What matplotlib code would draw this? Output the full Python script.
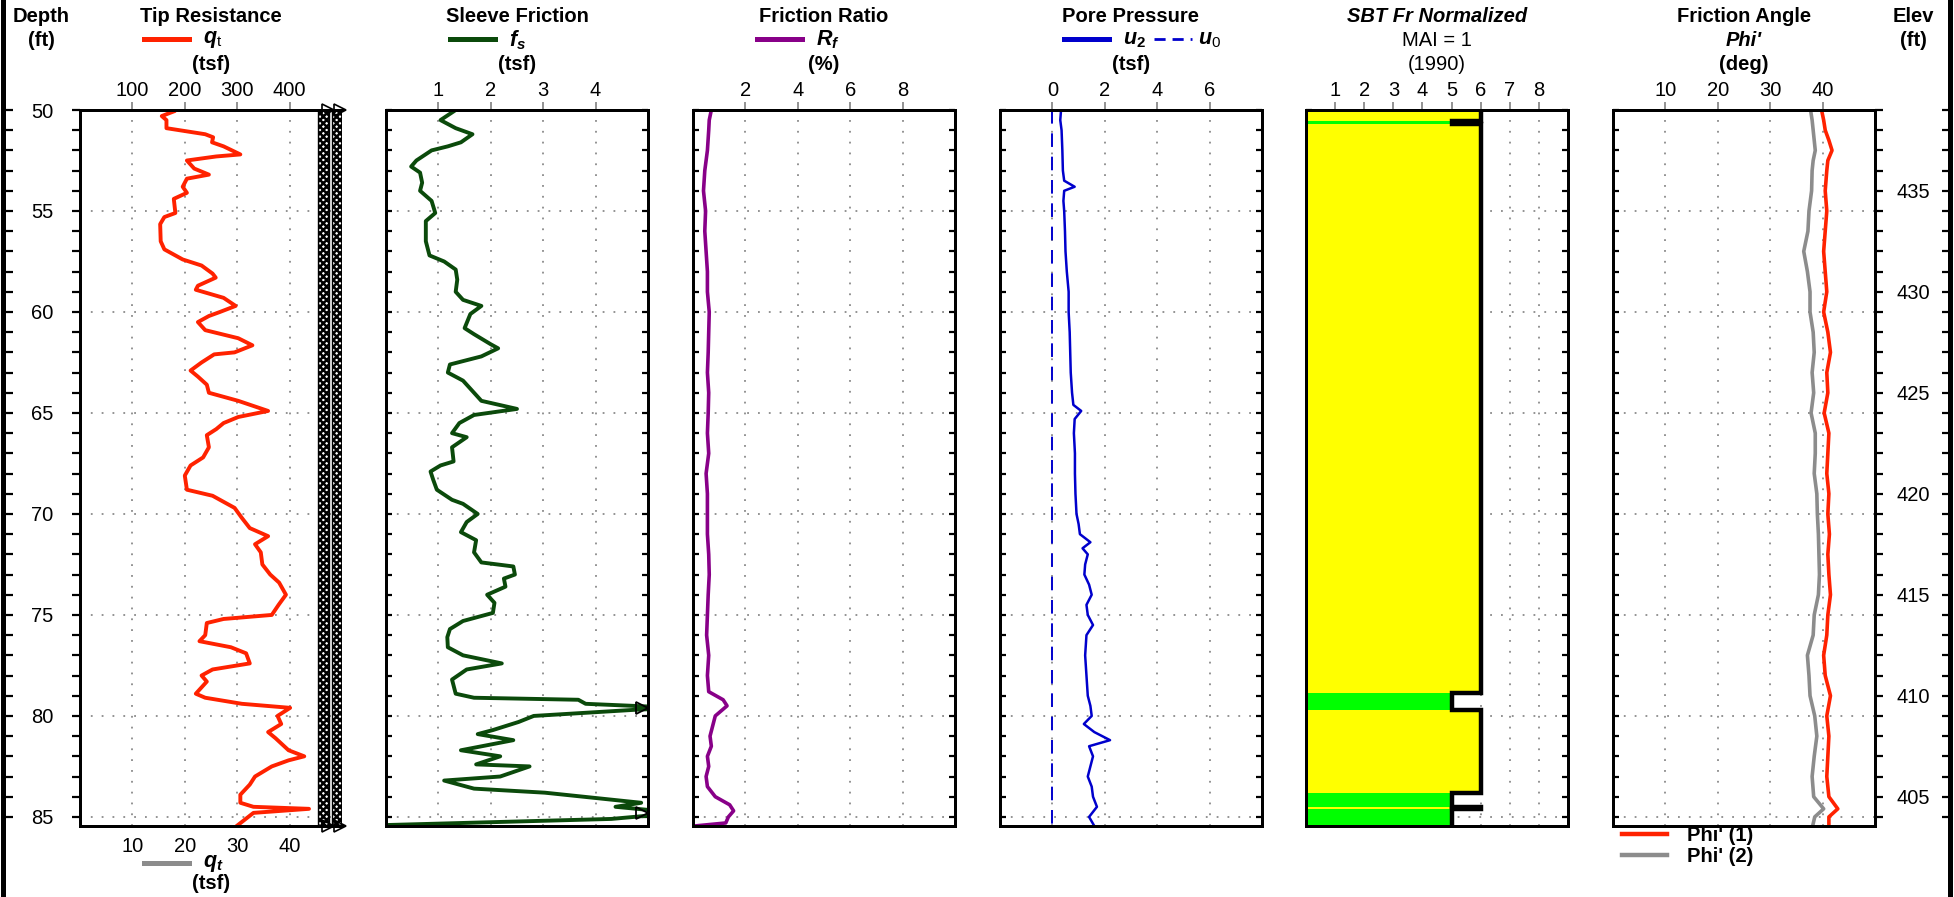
import numpy as np
import matplotlib
matplotlib.use("Agg")
import matplotlib.pyplot as plt
from matplotlib.lines import Line2D
from matplotlib.ticker import MultipleLocator

# ---- data ------------------------------------------------------------------
DEPTH_MIN, DEPTH_MAX = 50.0, 85.45
GROUND_ELEV = 489.0

# tip resistance qt (tsf)
qt_depth = [50.07, 50.3, 50.5, 50.9, 51.2, 51.35, 51.6, 51.8, 52.2, 52.3,
            52.5, 52.9, 53.2, 53.4, 53.8, 54.1, 54.4, 55.1, 55.3, 55.65,
            56.5, 56.9, 57.4, 57.7, 58.1, 58.3, 58.7, 58.9, 59.3, 59.7,
            60.0, 60.2, 60.5, 60.9, 61.3, 61.65, 62.0, 62.1, 62.5, 62.9,
            63.2, 63.6, 64.0, 64.4, 64.9, 65.2, 65.5, 65.8, 66.1, 66.7,
            67.2, 67.6, 68.1, 68.8, 69.1, 69.7, 70.2, 70.7, 71.1, 71.5,
            71.9, 72.5, 73.0, 73.4, 74.0, 74.5, 75.0, 75.2, 75.4, 76.0,
            76.3, 76.6, 76.9, 77.4, 77.7, 78.0, 78.3, 78.9, 79.1, 79.4,
            79.6, 80.0, 80.4, 80.8, 81.1, 81.7, 82.0, 82.2, 82.5, 83.0,
            83.4, 83.9, 84.3, 84.5, 84.6, 84.8, 85.45]
qt = [179, 156, 165, 165, 239, 254, 252, 274, 306, 260,
      204, 218, 246, 204, 196, 204, 179, 182, 161, 153,
      154, 161, 196, 232, 253, 259, 225, 221, 274, 297,
      267, 246, 225, 239, 302, 329, 295, 256, 232, 211,
      225, 242, 246, 302, 359, 302, 274, 260, 242, 246,
      235, 211, 200, 204, 253, 295, 309, 324, 359, 334,
      345, 348, 363, 380, 393, 379, 366, 274, 242, 239,
      228, 288, 317, 324, 253, 232, 242, 221, 239, 309,
      401, 377, 384, 359, 373, 398, 428, 398, 366, 334,
      324, 306, 306, 331, 437, 331, 299]

# sleeve friction fs (tsf)
fs_depth = [50.07, 50.5, 50.9, 51.2, 51.6, 51.8, 52.0, 52.5, 52.8, 53.1,
            53.6, 54.0, 54.5, 55.1, 55.5, 56.5, 57.2, 57.5, 57.9, 58.4,
            59.0, 59.4, 59.7, 60.1, 60.8, 61.1, 61.6, 61.8, 62.2, 62.6,
            63.0, 63.4, 64.0, 64.4, 64.8, 65.1, 65.5, 66.0, 66.2, 66.7,
            67.4, 67.6, 67.9, 68.3, 68.8, 69.3, 69.5, 70.0, 70.4, 70.9,
            71.3, 71.9, 72.4, 72.6, 73.0, 73.2, 73.6, 74.0, 74.4, 74.9,
            75.3, 75.7, 76.1, 76.6, 77.0, 77.4, 77.7, 78.2, 78.9, 79.1,
            79.2, 79.4, 79.6, 79.7, 80.0, 80.3, 80.7, 80.9, 81.2, 81.7,
            82.0, 82.4, 82.5, 83.0, 83.2, 83.6, 83.8, 84.3, 84.5, 84.8,
            85.1, 85.4]
fs = [1.29, 1.04, 1.33, 1.65, 1.43, 1.18, 0.87, 0.58, 0.48, 0.65,
      0.69, 0.65, 0.87, 0.94, 0.76, 0.76, 0.83, 1.11, 1.33, 1.36,
      1.33, 1.47, 1.82, 1.61, 1.50, 1.68, 2.00, 2.14, 1.82, 1.22,
      1.18, 1.47, 1.68, 1.82, 2.50, 1.68, 1.40, 1.26, 1.54, 1.26,
      1.29, 1.04, 0.85, 0.90, 0.97, 1.26, 1.47, 1.75, 1.54, 1.43,
      1.72, 1.68, 1.82, 2.43, 2.46, 2.25, 2.28, 1.93, 2.07, 2.04,
      1.47, 1.22, 1.17, 1.18, 1.47, 2.21, 1.54, 1.26, 1.33, 1.68,
      3.67, 3.81, 5.60, 4.73, 2.82, 2.53, 2.04, 1.75, 2.43, 1.43,
      2.18, 1.72, 2.74, 2.18, 1.11, 1.68, 3.03, 4.87, 4.38, 5.60,
      4.30, 0.05]

# friction ratio Rf (%)
fr_depth = [50, 50.5, 51, 52, 53, 54, 55, 56, 57, 58,
            59, 60, 61, 62, 63, 64, 65, 66, 67, 68,
            69, 70, 71, 72, 73, 74, 75, 76, 77, 78,
            78.8, 79.2, 79.5, 80, 80.5, 81, 81.5, 82, 82.5, 83,
            83.5, 84, 84.4, 84.7, 85, 85.3, 85.45]
fr = [0.70, 0.62, 0.60, 0.55, 0.45, 0.40, 0.48, 0.45, 0.50, 0.55,
      0.55, 0.62, 0.60, 0.58, 0.55, 0.60, 0.58, 0.55, 0.60, 0.50,
      0.55, 0.55, 0.55, 0.60, 0.62, 0.58, 0.55, 0.52, 0.60, 0.55,
      0.60, 1.15, 1.30, 0.85, 0.75, 0.65, 0.70, 0.55, 0.60, 0.50,
      0.55, 0.85, 1.40, 1.55, 1.35, 1.25, 0.05]

# pore pressure u2 and u0 (tsf)
u2_depth = [50, 50.5, 51, 52, 53, 53.5, 53.8, 54.0, 54.5, 55,
            56, 57, 58, 59, 60, 61, 62, 63, 64, 64.6,
            64.9, 65.3, 66, 67, 68, 69, 70, 70.5, 71, 71.4,
            71.7, 72, 72.5, 73, 73.5, 74, 74.5, 75, 75.5, 76,
            77, 78, 79, 79.5, 80, 80.4, 80.8, 81.2, 81.5, 82,
            82.5, 83, 83.5, 84, 84.5, 85, 85.45]
u2 = [0.33, 0.30, 0.35, 0.38, 0.40, 0.45, 0.85, 0.45, 0.42, 0.45,
      0.48, 0.50, 0.55, 0.62, 0.62, 0.66, 0.68, 0.70, 0.75, 0.80,
      1.10, 0.85, 0.82, 0.86, 0.86, 0.88, 0.92, 1.00, 1.05, 1.45,
      1.15, 1.35, 1.25, 1.22, 1.40, 1.50, 1.30, 1.35, 1.55, 1.30,
      1.25, 1.30, 1.35, 1.45, 1.50, 1.20, 1.60, 2.20, 1.40, 1.55,
      1.45, 1.35, 1.50, 1.55, 1.70, 1.40, 1.60]
u0_depth = [50.0, 85.45]
u0 = [0.0, 0.0]

# SBT (Robertson 1990, normalized) zones
sbt_edges = [50.0, 50.55, 50.68, 78.85, 79.70, 83.80, 84.52, 84.62, 85.45]
sbt_zone = [6, 5, 6, 5, 6, 5, 6, 5]
SBT_COLORS = {5: "#00FF00", 6: "#FFFF00"}

# friction angle (deg)
phi_depth = [50, 50.5, 51, 51.5, 52, 52.5, 53, 54, 55, 56,
             57, 58, 59, 60, 61, 62, 63, 64, 65, 66,
             67, 68, 69, 70, 71, 72, 73, 74, 75, 76,
             77, 78, 79, 80, 81, 82, 83, 84, 84.6, 85, 85.45]
phi1 = [39.8, 40.2, 40.5, 41.2, 41.8, 41.0, 40.8, 40.5, 40.8, 40.5,
        40.2, 40.5, 40.8, 40.2, 41.0, 41.5, 40.8, 41.0, 40.3, 41.2,
        41.0, 40.8, 41.2, 41.0, 41.3, 41.0, 41.2, 41.5, 41.0, 40.8,
        40.2, 40.5, 41.5, 40.8, 41.2, 41.0, 40.8, 41.2, 42.9, 41.2, 41.2]
phi2 = [37.7, 38.0, 38.2, 38.4, 38.6, 38.2, 38.0, 37.9, 37.4, 37.2,
        36.4, 37.1, 37.6, 37.6, 38.2, 38.4, 38.0, 38.3, 37.8, 38.6,
        38.6, 38.4, 38.9, 39.0, 39.2, 39.3, 39.4, 39.2, 38.4, 38.2,
        37.1, 37.4, 37.6, 38.5, 38.9, 38.4, 38.0, 38.3, 40.2, 38.5, 38.1]

# axis break columns on the tip resistance track (tsf)
qt_break = [(455, 476), (481, 500)]

# ---- layout (pixels) -------------------------------------------------------
W, H = 1954, 897
PX = 0.72
PANEL_LEFT = [80, 386, 693, 1000, 1306, 1613]
PANEL_W = 262
TOP, BOT = 110, 826
FS = 14.5

RED = "#FF2200"
GREEN = "#0B4A0B"
PURPLE = "#880088"
BLUE = "#0000CC"
GRAY = "#8C8C8C"


def fx(px):
    return px / W


def fy(py):
    return 1 - py / H


def add_panel(fig, left, xlim, xticks):
    ax = fig.add_axes([fx(left), fy(BOT), PANEL_W / W, (BOT - TOP) / H])
    ax.set_xlim(*xlim)
    ax.set_ylim(DEPTH_MAX, DEPTH_MIN)
    ax.xaxis.tick_top()
    ax.set_xticks(xticks)
    ax.yaxis.set_major_locator(MultipleLocator(5))
    ax.yaxis.set_minor_locator(MultipleLocator(1))
    ax.tick_params(axis="x", which="both", direction="out", length=8 * PX,
                   width=1.3, color="#8a8a8a", labelsize=FS, pad=1.5)
    ax.tick_params(axis="y", which="both", direction="in", length=6 * PX,
                   width=1.6, left=True, right=True, labelleft=False)
    ax.grid(True, which="major", color="#8a8a8a", linestyle=(0, (1, 5)), lw=1.3)
    ax.set_axisbelow(True)
    for s in ax.spines.values():
        s.set_linewidth(3 * PX)
        s.set_zorder(6)
    return ax


def key_line(fig, x0, x1, y, **kw):
    fig.add_artist(Line2D([fx(x0), fx(x1)], [fy(y), fy(y)], **kw))


def main():
    plt.rcParams["font.family"] = ["Liberation Sans", "DejaVu Sans"]
    plt.rcParams["mathtext.fontset"] = "custom"
    plt.rcParams["mathtext.rm"] = "Liberation Sans"
    plt.rcParams["mathtext.it"] = "Liberation Sans:italic:bold"
    plt.rcParams["mathtext.bf"] = "Liberation Sans:bold"
    plt.rcParams["hatch.linewidth"] = 1.8

    fig = plt.figure(figsize=(W / 100, H / 100), dpi=100)

    # Tip resistance
    ax1 = add_panel(fig, PANEL_LEFT[0], (0, 500), [100, 200, 300, 400])
    ax1.tick_params(axis="y", which="both", direction="out", length=8 * PX,
                    right=False, labelleft=True, labelsize=FS, pad=19 * PX)
    ax1.plot(qt, qt_depth, color=RED, lw=2.8, zorder=3)
    for a, b in qt_break:
        ax1.axvspan(a, b, facecolor="white", edgecolor="black",
                    hatch="xxxxx", lw=1.0, zorder=4)
        ax1.plot([b - 3, b - 3], [DEPTH_MIN, DEPTH_MAX], ls="none", marker=">",
                 ms=8, mfc="none", mec="black", mew=1.2, clip_on=False, zorder=7)
    ax1.spines["right"].set_visible(False)
    sec = ax1.secondary_xaxis("bottom", functions=(lambda v: v / 10, lambda v: v * 10))
    sec.set_xticks([10, 20, 30, 40])
    sec.tick_params(length=0, labelsize=FS, pad=8)
    sec.spines["bottom"].set_linewidth(3 * PX)

    # Sleeve friction
    ax2 = add_panel(fig, PANEL_LEFT[1], (0, 5), [1, 2, 3, 4])
    ax2.plot(fs, fs_depth, color=GREEN, lw=2.8, zorder=3)
    fs_arr = np.array(fs)
    off = fs_arr > 5
    ax2.plot(np.full(off.sum(), 5.0) - 0.12, np.array(fs_depth)[off], ls="none",
             marker=">", ms=9, mfc="none", mec="black", mew=1.3, clip_on=False, zorder=7)

    # Friction ratio
    ax3 = add_panel(fig, PANEL_LEFT[2], (0, 10), [2, 4, 6, 8])
    ax3.plot(fr, fr_depth, color=PURPLE, lw=2.6, zorder=3)

    # Pore pressure
    ax4 = add_panel(fig, PANEL_LEFT[3], (-2, 8), [0, 2, 4, 6])
    ax4.plot(u2, u2_depth, color=BLUE, lw=1.8, zorder=3)
    ax4.plot(u0, u0_depth, color=BLUE, lw=1.4, ls=(0, (7, 5)), zorder=3)

    # SBT
    ax5 = add_panel(fig, PANEL_LEFT[4], (0, 9), [1, 2, 3, 4, 5, 6, 7, 8])
    edges = np.array(sbt_edges)
    ax5.barh((edges[:-1] + edges[1:]) / 2, sbt_zone, height=np.diff(edges),
             color=[SBT_COLORS[z] for z in sbt_zone], lw=0, zorder=1)
    ax5.stairs(sbt_zone, edges, orientation="horizontal", baseline=None,
               color="black", lw=3.2, zorder=4)

    # Friction angle
    ax6 = add_panel(fig, PANEL_LEFT[5], (0, 50), [10, 20, 30, 40])
    ax6.tick_params(axis="y", which="both", right=False)
    ax6.plot(phi2, phi_depth, color=GRAY, lw=2.6, zorder=3)
    ax6.plot(phi1, phi_depth, color=RED, lw=2.6, zorder=3)
    ax6.legend(handles=[Line2D([], [], color=RED, lw=3.2),
                        Line2D([], [], color=GRAY, lw=3.2)],
               labels=["Phi' (1)", "Phi' (2)"], loc="upper left",
               bbox_to_anchor=(0.034, 0.0), frameon=False, borderpad=0,
               borderaxespad=0, handlelength=2.25, handletextpad=1.0,
               labelspacing=0.12, prop=dict(weight="bold", size=FS))

    # depth frame ticks (left) and elevation axis (right)
    axl = fig.add_axes([fx(3), fy(BOT), 30 / W, (BOT - TOP) / H])
    axr = fig.add_axes([fx(1875), fy(BOT), 75 / W, (BOT - TOP) / H])
    axl.set_ylim(DEPTH_MAX, DEPTH_MIN)
    axr.set_ylim(GROUND_ELEV - DEPTH_MAX, GROUND_ELEV - DEPTH_MIN)
    for a in (axl, axr):
        a.patch.set_visible(False)
        for s in a.spines.values():
            s.set_visible(False)
        a.set_xticks([])
        a.yaxis.set_major_locator(MultipleLocator(5))
        a.yaxis.set_minor_locator(MultipleLocator(1))
    axl.tick_params(axis="y", which="both", direction="in", length=10 * PX,
                    width=1.6, labelleft=False)
    axr.tick_params(axis="y", which="both", direction="in", length=8 * PX,
                    width=1.6, left=True, right=True, labelleft=True,
                    labelright=False, labelsize=FS, pad=-55 * PX)
    fig.add_artist(Line2D([fx(2.5), fx(2.5)], [0, 1], color="black", lw=5 * PX))
    fig.add_artist(Line2D([fx(1950), fx(1950)], [0, 1], color="black", lw=5 * PX))

    # headers
    bold = dict(ha="center", va="center", fontsize=FS, fontweight="bold")
    fig.text(fx(41), fy(16), "Depth", **bold)
    fig.text(fx(41), fy(40), "(ft)", **bold)
    fig.text(fx(1913), fy(16), "Elev", **bold)
    fig.text(fx(1913), fy(40), "(ft)", **bold)

    headers = [("Tip Resistance", r"$q_\mathrm{t}$", RED, "(tsf)"),
               ("Sleeve Friction", r"$f_s$", GREEN, "(tsf)"),
               ("Friction Ratio", r"$R_f$", PURPLE, "(%)"),
               ("Pore Pressure", r"$u_\mathbf{2}$", BLUE, "(tsf)")]
    for left, (title, sym, col, unit) in zip(PANEL_LEFT, headers):
        cx = left + PANEL_W / 2
        fig.text(fx(cx), fy(16), title, **bold)
        key_line(fig, cx - 67, cx - 22, 39, color=col, lw=3.6)
        fig.text(fx(cx - 8), fy(40), sym, ha="left", va="center", fontsize=FS + 1)
        fig.text(fx(cx), fy(64), unit, **bold)
    cx = PANEL_LEFT[3] + PANEL_W / 2
    key_line(fig, cx + 23, cx + 61, 39, color=BLUE, lw=2.0, ls=(0, (4, 2.5)))
    fig.text(fx(cx + 67), fy(40), r"$u_\mathit{0}$", ha="left", va="center",
             fontsize=FS + 1)

    cx = PANEL_LEFT[4] + PANEL_W / 2
    fig.text(fx(cx), fy(16), "SBT Fr Normalized", ha="center", va="center",
             fontsize=FS, fontweight="bold", fontstyle="italic")
    fig.text(fx(cx), fy(40), "MAI = 1", ha="center", va="center", fontsize=FS)
    fig.text(fx(cx), fy(64), "(1990)", ha="center", va="center", fontsize=FS)

    cx = PANEL_LEFT[5] + PANEL_W / 2
    fig.text(fx(cx), fy(16), "Friction Angle", **bold)
    fig.text(fx(cx), fy(40), "Phi'", ha="center", va="center", fontsize=FS,
             fontweight="bold", fontstyle="italic")
    fig.text(fx(cx), fy(64), "(deg)", **bold)

    # bottom key for the second tip resistance scale
    cx = PANEL_LEFT[0] + PANEL_W / 2
    key_line(fig, cx - 67, cx - 22, 863, color=GRAY, lw=3.6)
    fig.text(fx(cx - 8), fy(863), r"$q_\mathit{t}$", ha="left", va="center",
             fontsize=FS + 1)
    fig.text(fx(cx), fy(883), "(tsf)", **bold)

    fig.savefig("out.png", dpi=100)


if __name__ == "__main__":
    main()
